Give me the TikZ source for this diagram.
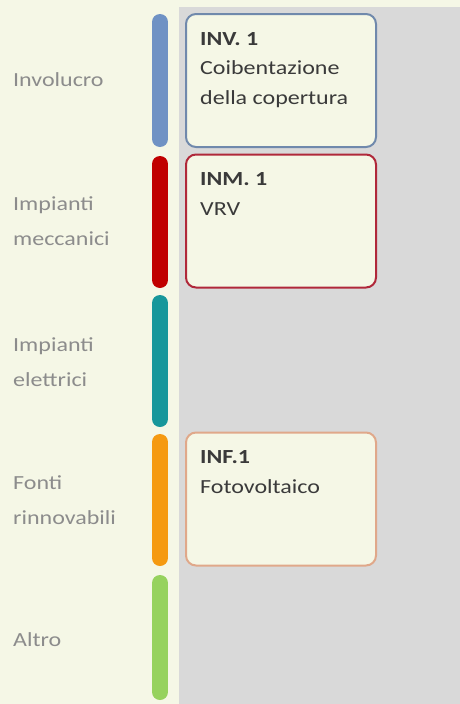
\documentclass[tikz,border=0pt]{standalone}
\usepackage{fontspec}
\setmainfont{Carlito}[FakeStretch=1.2]
\usetikzlibrary{positioning}
\definecolor{cream}{HTML}{F5F7E6}
\definecolor{panel}{HTML}{D9D9D9}
\definecolor{labelgray}{HTML}{8C8C8C}
\definecolor{textgray}{HTML}{3A3A3A}
\definecolor{barblue}{HTML}{6F92C4}
\definecolor{barred}{HTML}{C00000}
\definecolor{barteal}{HTML}{17979B}
\definecolor{barorange}{HTML}{F59A12}
\definecolor{bargreen}{HTML}{96D25E}
\definecolor{invline}{HTML}{7089AC}
\definecolor{inmline}{HTML}{B0283A}
\definecolor{infline}{HTML}{E0A88A}
\begin{document}
\begin{tikzpicture}[x=1pt,y=-1pt,
    bar/.style={line width=16pt, line cap=round},
    cat/.style={anchor=west, inner sep=0pt, align=left, text=labelgray,
      font=\fontsize{20}{35}\selectfont},
    box/.style={draw, line width=2pt, rounded corners=10pt, fill=cream,
      minimum width=190pt, minimum height=133pt, inner sep=0pt},
    boxtext/.style={anchor=north west, inner sep=0pt, align=left, text=textgray,
      font=\fontsize{20}{29.5}\selectfont}]
    % background
    \fill [cream] (0,0) rectangle (460,704);
    \fill [panel] (179,7) rectangle (460,704);
    \useasboundingbox (0,0) rectangle (460,704);
    % category bars
    \draw [bar, barblue] (160,22) -- (160,139);
    \draw [bar, barred] (160,164) -- (160,280);
    \draw [bar, barteal] (160,303) -- (160,419);
    \draw [bar, barorange] (160,442) -- (160,558);
    \draw [bar, bargreen] (160,583) -- (160,692);
    % category labels
    \node [cat] (involucro) at (13,80) {Involucro};
    \node [cat] (meccanici) at (13,221) {Impianti\\meccanici};
    \node [cat] (elettrici) at (13,362) {Impianti\\elettrici};
    \node [cat] (fonti) at (13,500) {Fonti\\rinnovabili};
    \node [cat] (altro) at (13,640) {Altro};
    % interventions
    \node [box, draw=invline] (inv) at (281,80.5) {};
    \node [boxtext] (invtext) at ([shift={(15,19)}]inv.north west)
      {\textbf{INV. 1}\\Coibentazione\\della copertura};
    \node [box, draw=inmline] (inm) at (281,221) {};
    \node [boxtext] (inmtext) at ([shift={(15,19)}]inm.north west)
      {\textbf{INM. 1}\\VRV};
    \node [box, draw=infline] (inf) at (281,499) {};
    \node [boxtext] (inftext) at ([shift={(15,19)}]inf.north west)
      {\textbf{INF.1}\\Fotovoltaico};
\end{tikzpicture}
\end{document}
